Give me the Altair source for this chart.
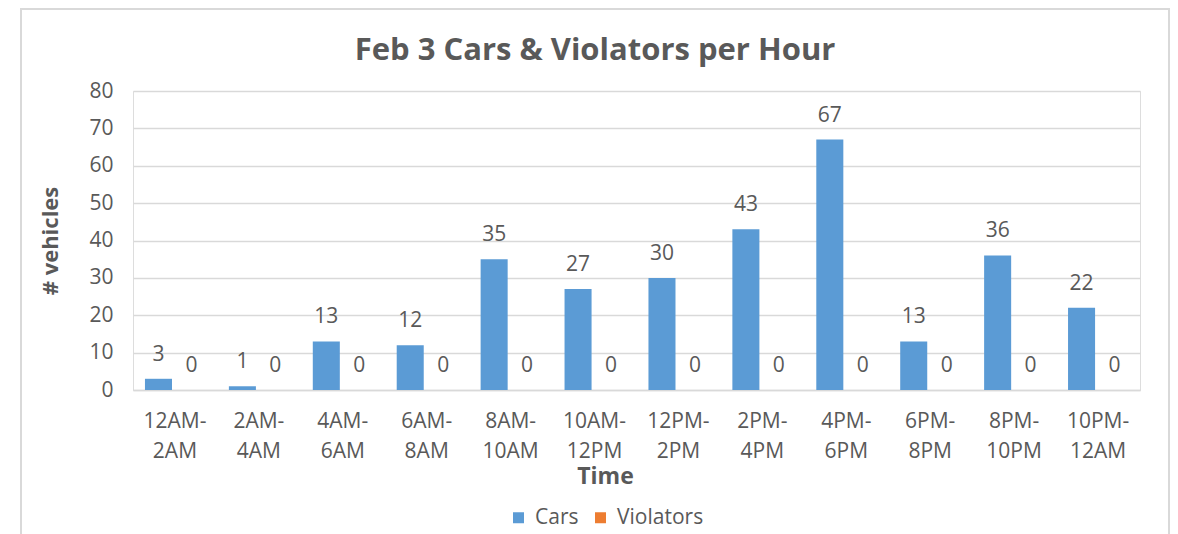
import altair as alt
import pandas as pd

categories = ["12AM-2AM", "2AM-4AM", "4AM-6AM", "6AM-8AM", "8AM-10AM", "10AM-12PM",
              "12PM-2PM", "2PM-4PM", "4PM-6PM", "6PM-8PM", "8PM-10PM", "10PM-12AM"]
cars = [3, 1, 13, 12, 35, 27, 30, 43, 67, 13, 36, 22]
violators = [0, 0, 0, 0, 0, 0, 0, 0, 0, 0, 0, 0]
series = ["Cars", "Violators"]
colors = ["#5B9BD5", "#ED7D31"]
title_text = "Feb 3 Cars & Violators per Hour"

rows = []
for i, c in enumerate(categories):
    rows.append({"Time": c, "Series": "Cars", "Value": cars[i]})
    rows.append({"Time": c, "Series": "Violators", "Value": violators[i]})
df = pd.DataFrame(rows)

FONT = "Open Sans"
GRAY = "#595959"
FS = 21

x_enc = alt.X("Time:N", sort=categories,
              scale=alt.Scale(paddingInner=0.285, paddingOuter=0.1425),
              axis=alt.Axis(title="Time", labelAngle=0, ticks=False, domain=True,
                            domainColor="#d9d9d9", domainWidth=1.5,
                            labelExpr="[split(datum.label, '-')[0] + '-', split(datum.label, '-')[1]]",
                            labelFontSize=FS, labelLineHeight=30, labelColor=GRAY,
                            labelFont=FONT, labelPadding=20,
                            titleFont=FONT, titleFontSize=23, titleFontWeight="bold",
                            titleColor=GRAY, titleX=472, titleY=86,
                            titleAlign="center", titleBaseline="middle"))
xo_enc = alt.XOffset("Series:N", sort=series, scale=alt.Scale(paddingInner=0.18))
y_enc = alt.Y("Value:Q", scale=alt.Scale(domain=[0, 80]),
              axis=alt.Axis(title="# vehicles", values=list(range(0, 81, 10)),
                            ticks=False, domain=False, grid=True,
                            gridColor="#d9d9d9", gridWidth=1.5,
                            labelFontSize=FS, labelColor=GRAY, labelFont=FONT,
                            labelPadding=20,
                            titleFont=FONT, titleFontSize=22, titleFontWeight="bold",
                            titleColor=GRAY, titleX=-83, titleY=149.5,
                            titleAngle=-90, titleAlign="center", titleBaseline="middle"))
color_enc = alt.Color("Series:N", sort=series,
                      scale=alt.Scale(domain=series, range=colors),
                      legend=alt.Legend(title=None, orient="none", legendX=375, legendY=416,
                                        direction="horizontal", symbolType="square",
                                        symbolSize=121, symbolStrokeWidth=0,
                                        labelFontSize=FS, labelColor=GRAY, labelFont=FONT,
                                        columnPadding=11, labelOffset=6))

base = alt.Chart(df).encode(x=x_enc, xOffset=xo_enc, y=y_enc)
bars = base.mark_bar().encode(color=color_enc)
labels = base.mark_text(baseline="alphabetic", dy=-18, fontSize=FS, color=GRAY,
                        font=FONT).encode(text="Value:Q")

one = pd.DataFrame({"t": [title_text]})
frame = alt.Chart(one).mark_rect(
    fill=None, stroke="#d9d9d9", strokeWidth=2).encode(
    x=alt.value(-112), x2=alt.value(1036), y=alt.value(-82), y2=alt.value(500))
title = alt.Chart(one).mark_text(
    font=FONT, fontSize=31, fontWeight="bold", color=GRAY,
    align="center", baseline="middle").encode(
    x=alt.value(462), y=alt.value(-40), text="t:N")

chart = alt.layer(frame, title, bars, labels).properties(
    width=1007, height=299,
    padding={"left": 125, "top": 83, "right": 30, "bottom": 144},
    autosize=alt.AutoSizeParams(type="none"),
).configure_view(stroke=None).configure(background="white")

chart.save("out.html", embed_options={"renderer": "svg", "actions": False})
